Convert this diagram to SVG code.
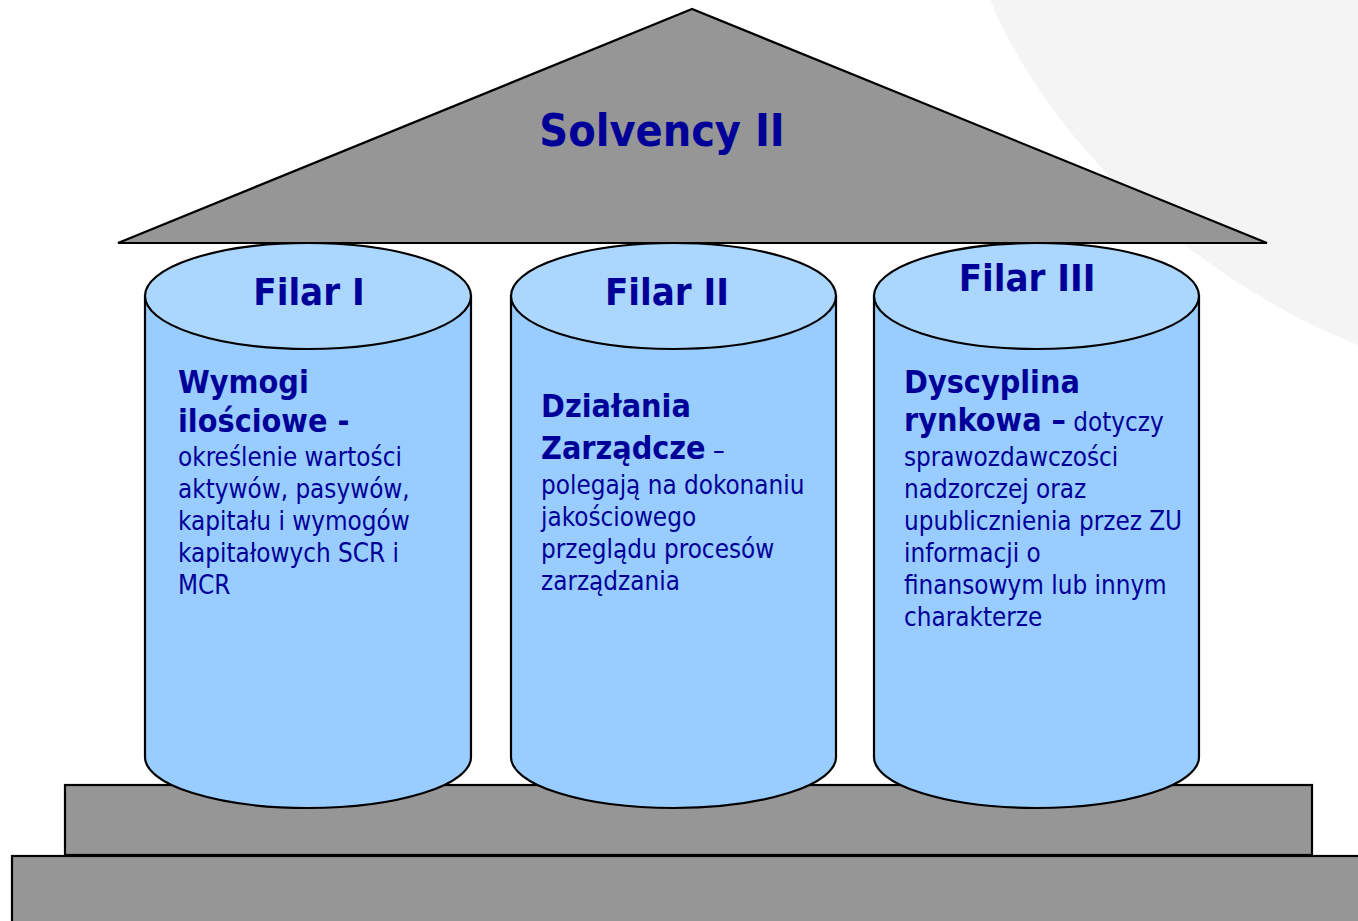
<svg xmlns="http://www.w3.org/2000/svg" width="1358" height="921" viewBox="0 0 1358 921">
<style>
.gray{fill:#969696;stroke:#000;stroke-width:2.2}
.body{fill:#99ccff;stroke:#000;stroke-width:2.2}
.top{fill:#abd6fd;stroke:#000;stroke-width:2.2}
text{font-family:"DejaVu Sans Condensed","DejaVu Sans",sans-serif;fill:#000099}
.title{font-size:44.5px;font-weight:bold;text-anchor:middle}
.filar{font-size:38px;font-weight:bold;text-anchor:middle}
.h{font-size:32px;font-weight:bold}
.t{font-size:25.8px}
</style>
<rect width="1358" height="921" fill="#fff"/>
<path d="M990,0 C1040,120 1170,270 1358,345 L1358,0 Z" fill="#f4f4f4"/>
<g id="roof">
<polygon class="gray" points="692,9 118,243 1267,243"/>
<text class="title" x="662" y="146">Solvency II</text>
</g>
<g id="base">
<rect class="gray" x="12" y="856" width="1360" height="80" stroke-width="3"/>
<rect class="gray" x="65" y="785" width="1247" height="70"/>
</g>
<g id="filar1">
<path class="body" d="M145,296 L145,757 A163,51 0 0 0 471,757 L471,296 Z"/>
<ellipse class="top" cx="308" cy="296" rx="163" ry="53"/>
<text class="filar" x="309" y="305">Filar I</text>
<text class="h" x="178" y="393">Wymogi</text>
<text class="h" x="178" y="432">ilościowe -</text>
<text class="t" x="178" y="466">określenie wartości</text>
<text class="t" x="178" y="498">aktywów, pasywów,</text>
<text class="t" x="178" y="530">kapitału i wymogów</text>
<text class="t" x="178" y="562">kapitałowych SCR i</text>
<text class="t" x="178" y="594">MCR</text>
</g>
<g id="filar2">
<path class="body" d="M511,296 L511,757 A162.5,51 0 0 0 836,757 L836,296 Z"/>
<ellipse class="top" cx="673.5" cy="296" rx="162.5" ry="53"/>
<text class="filar" x="667" y="305">Filar II</text>
<text class="h" x="541" y="417">Działania</text>
<text x="541" y="459"><tspan class="h">Zarządcze</tspan><tspan class="t"> –</tspan></text>
<text class="t" x="541" y="494">polegają na dokonaniu</text>
<text class="t" x="541" y="526">jakościowego</text>
<text class="t" x="541" y="558">przeglądu procesów</text>
<text class="t" x="541" y="590">zarządzania</text>
</g>
<g id="filar3">
<path class="body" d="M874,296 L874,757 A162.5,51 0 0 0 1199,757 L1199,296 Z"/>
<ellipse class="top" cx="1036.5" cy="296" rx="162.5" ry="53"/>
<text class="filar" x="1027" y="291">Filar III</text>
<text class="h" x="904" y="393">Dyscyplina</text>
<text x="904" y="431"><tspan class="h">rynkowa –</tspan><tspan class="t"> dotyczy</tspan></text>
<text class="t" x="904" y="466">sprawozdawczości</text>
<text class="t" x="904" y="498">nadzorczej oraz</text>
<text class="t" x="904" y="530">upublicznienia przez ZU</text>
<text class="t" x="904" y="562">informacji o</text>
<text class="t" x="904" y="594">finansowym lub innym</text>
<text class="t" x="904" y="626">charakterze</text>
</g>
<g id="connectors"/>
</svg>
